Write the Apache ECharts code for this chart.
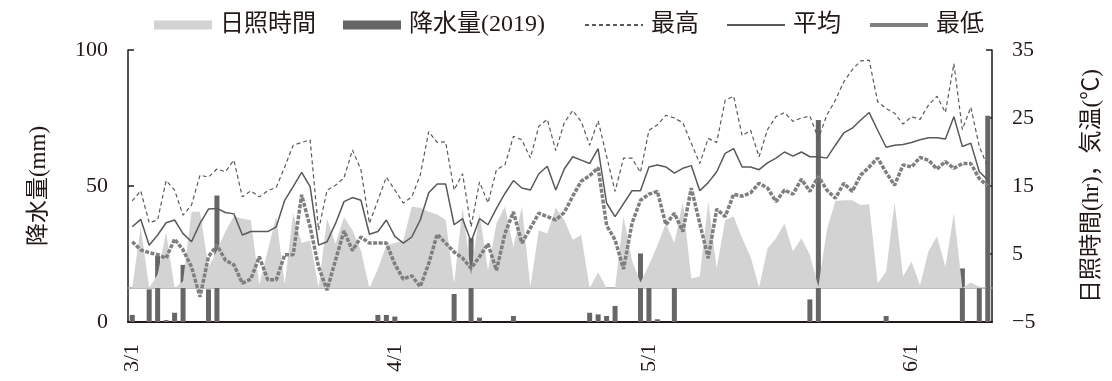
<!DOCTYPE html>
<html>
<head>
<meta charset="utf-8">
<script src="https://cdn.jsdelivr.net/npm/echarts@6/dist/echarts.min.js"></script>
<style>
  html, body { margin: 0; padding: 0; background: #fff; }
  #chart { width: 1112px; height: 381px; }
</style>
</head>
<body>
<div id="chart"></div>
<script>
// 2019/3/1 - 6/10, daily
var monthLengths = [[3, 31], [4, 30], [5, 31], [6, 10]];
var days = [];
monthLengths.forEach(function (m) {
  for (var d = 1; d <= m[1]; d++) days.push(m[0] + '/' + d);
});

// 日照時間 (hr)
var sunshine = [
  0, 9.0, 0, 2.0, 8.2, 0, 1.0, 11.2, 11.2, 3.0,
  5.5, 8.3, 10.6, 10.2, 10.0, 0.5, 5.5, 10.5, 0.5, 11.0,
  6.6, 7.0, 0, 10.2, 6.5, 10.4, 8.5, 5.5, 0, 2.8,
  6.3, 6.6, 7.0, 12.0, 11.8, 11.2, 10.8, 10.0, 0.7, 11.8,
  2.0, 11.0, 2.6, 9.5, 12.0, 6.0, 12.0, 0.2, 8.5, 8.0,
  11.8, 10.0, 7.1, 7.8, 0, 2.3, 0, 0, 10.5, 4.0,
  0.8, 3.4, 6.3, 9.5, 6.6, 12.7, 1.4, 1.7, 12.7, 2.9,
  10.0, 10.5, 7.3, 4.6, 0.1, 5.8, 7.3, 9.5, 5.4, 7.3,
  4.9, 0.2, 8.5, 12.8, 12.9, 12.9, 12.2, 12.3, 0.7, 2.4,
  12.6, 1.7, 3.9, 0.4, 5.4, 7.6, 3.1, 11.0, 0, 0.8,
  0.2, 0
];

// 降水量 (mm)
var precip = [
  2.6, 0, 12.0, 24.3, 0.7, 3.4, 21.0, 0, 0, 12.0,
  46.5, 0, 0, 0, 0, 0, 0, 0, 0, 0,
  0, 0, 0, 0, 0, 0, 0, 0, 0, 2.6,
  2.6, 2.0, 0, 0, 0, 0, 0, 0, 10.3, 0,
  30.8, 1.6, 0, 0, 0, 2.2, 0, 0, 0, 0,
  0, 0, 0, 0, 3.4, 2.8, 2.2, 5.9, 0, 0,
  25.2, 17.2, 1.0, 0, 17.2, 0, 0, 0, 0, 0,
  0, 0, 0, 0, 0, 0, 0, 0, 0, 0,
  8.3, 74.3, 0, 0, 0, 0, 0, 0, 0, 2.2,
  0, 0, 0, 0, 0, 0, 0, 0, 19.7, 0,
  12.4, 75.8
];

// 気温 (℃)
var tempMax = [
  12.8, 14.3, 9.6, 10.0, 15.8, 14.4, 10.7, 12.2, 16.6, 16.3,
  17.5, 17.1, 18.8, 13.4, 14.3, 13.4, 14.3, 14.8, 17.8, 21.0,
  21.4, 21.8, 8.5, 14.4, 15.1, 16.2, 20.3, 17.4, 9.5, 12.9,
  16.3, 14.4, 12.5, 13.4, 16.6, 23.0, 21.4, 21.5, 14.4, 16.8,
  9.0, 15.6, 12.5, 17.4, 18.1, 22.3, 21.8, 19.1, 23.8, 24.8,
  20.2, 24.3, 26.1, 24.5, 21.0, 24.6, 19.4, 14.2, 19.1, 19.1,
  17.0, 23.2, 24.0, 25.4, 25.0, 24.3, 21.3, 18.3, 22.0, 21.4,
  27.6, 28.2, 22.4, 23.2, 19.3, 23.3, 25.2, 25.8, 24.5, 25.0,
  25.3, 22.0, 25.4, 27.6, 30.3, 32.1, 33.4, 33.5, 27.4, 26.4,
  25.7, 24.1, 25.2, 24.8, 26.9, 28.2, 25.8, 33.0, 23.3, 26.6,
  20.8, 17.8
];
var tempAvg = [
  9.0, 10.1, 6.3, 7.8, 9.6, 10.0, 8.0, 6.8, 9.5, 11.6,
  11.7, 11.1, 10.9, 7.8, 8.3, 8.3, 8.3, 9.0, 12.9, 14.9,
  17.0, 14.9, 6.3, 6.8, 9.5, 12.7, 13.3, 12.9, 7.9, 8.3,
  10.0, 7.6, 6.6, 7.5, 10.0, 14.0, 15.3, 15.3, 9.3, 10.2,
  6.8, 10.2, 9.3, 11.7, 13.9, 15.8, 14.7, 14.4, 16.8, 17.9,
  14.4, 17.5, 19.3, 18.8, 18.3, 20.5, 12.5, 10.5, 12.4, 14.3,
  14.3, 17.8, 18.1, 17.8, 16.9, 17.6, 18.0, 14.3, 15.5, 17.1,
  19.8, 20.5, 17.8, 17.8, 17.4, 18.4, 19.1, 20.0, 19.4, 20.0,
  19.3, 19.3, 19.1, 21.0, 22.8, 23.5, 24.7, 25.8, 23.2, 20.7,
  21.0, 21.1, 21.4, 21.8, 22.1, 22.1, 21.9, 25.2, 20.8, 21.3,
  17.1, 15.9
];
var tempMin = [
  6.8, 5.6, 5.2, 4.9, 4.4, 7.2, 5.6, 3.1, -1.3, 4.6,
  6.3, 4.1, 3.4, 0.7, 1.3, 4.6, 1.2, 1.2, 4.9, 4.9,
  13.7, 9.0, 3.1, -0.3, 4.1, 8.4, 5.5, 7.5, 6.6, 6.6,
  6.6, 3.5, 1.3, 1.8, 0.2, 3.6, 7.9, 6.6, 5.3, 4.4,
  2.9, 4.6, 6.5, 2.6, 8.0, 11.2, 6.6, 8.8, 11.0, 10.5,
  10.0, 11.1, 13.5, 15.7, 16.5, 17.7, 9.2, 7.1, 2.8, 9.5,
  12.9, 13.8, 14.2, 9.3, 11.0, 8.3, 14.7, 9.5, 4.4, 11.6,
  10.5, 13.8, 13.5, 14.0, 15.4, 14.7, 12.7, 14.4, 13.8, 16.0,
  14.2, 16.4, 14.4, 13.2, 15.4, 14.2, 16.6, 17.8, 19.1, 17.0,
  15.1, 18.1, 17.8, 19.2, 18.8, 17.5, 18.6, 17.6, 18.3, 18.3,
  16.1, 15.0
];

var FONT = "'Liberation Serif', 'Noto Sans CJK JP', serif";
var INK = '#231815';
var NO_DOT = { color: 'rgba(0,0,0,0)', opacity: 0, borderWidth: 0 };

function isMonthStart(index) {
  return /\/1$/.test(days[index]);
}

var chart = echarts.init(document.getElementById('chart'));
var option = {
  animation: false,
  textStyle: { fontFamily: FONT, color: INK },
  legend: {
    left: 149,
    top: 8,
    itemWidth: 58,
    itemHeight: 9,
    itemGap: 27,
    textStyle: { fontFamily: FONT, fontSize: 24, color: INK, padding: [0, 0, 0, 3] },
    // the (2019) label sits wider in the original type
    formatter: function (name) {
      return name === '降水量(2019)' ? name + '\u2002' : name;
    },
    data: [
      { name: '日照時間', icon: 'rect' },
      { name: '降水量(2019)', icon: 'rect' },
      { name: '最高', itemStyle: NO_DOT },
      { name: '平均', itemStyle: NO_DOT },
      { name: '最低', itemStyle: NO_DOT, lineStyle: { type: 'solid', width: 4 } }
    ]
  },
  grid: { left: 128, right: 120, top: 50, bottom: 59 },
  xAxis: [{
    type: 'category',
    data: days,
    boundaryGap: true,
    axisLine: { lineStyle: { color: INK, width: 2 } },
    axisTick: { interval: isMonthStart, length: 7, lineStyle: { color: INK, width: 1.5 } },
    axisLabel: { interval: isMonthStart, rotate: 90, margin: 22, fontSize: 22, color: INK, fontFamily: FONT }
  }, {
    type: 'category',
    data: days,
    position: 'top',
    axisLine: { lineStyle: { color: '#a8a8a8', width: 1.5 } },
    axisTick: { show: false },
    axisLabel: { show: false }
  }],
  yAxis: [{
    type: 'value',
    min: 0,
    max: 100,
    interval: 50,
    position: 'left',
    name: '降水量(mm)',
    nameLocation: 'middle',
    nameGap: 78,
    nameTextStyle: { fontFamily: FONT, fontSize: 23, color: INK },
    axisLine: { show: true, lineStyle: { color: INK, width: 1.5 } },
    axisTick: { show: true, inside: true, length: 6, lineStyle: { color: INK, width: 1.5 } },
    axisLabel: { fontSize: 22, margin: 20, color: INK, fontFamily: FONT },
    splitLine: { show: false }
  }, {
    type: 'value',
    min: -5,
    max: 35,
    interval: 10,
    position: 'right',
    name: '日照時間(hr)，気温(℃)',
    nameLocation: 'middle',
    nameGap: 88,
    nameTextStyle: { fontFamily: FONT, fontSize: 23, color: INK },
    axisLine: { show: true, lineStyle: { color: INK, width: 1.5 } },
    axisTick: { show: true, inside: true, length: 6, lineStyle: { color: INK, width: 1.5 } },
    axisLabel: {
      fontSize: 22, margin: 20, color: INK, fontFamily: FONT,
      formatter: function (v) { return String(v).replace('-', '\u2212'); }
    },
    splitLine: { show: false }
  }],
  series: [{
    name: '日照時間',
    type: 'line',
    yAxisIndex: 1,
    data: sunshine,
    symbol: 'none',
    lineStyle: { width: 0 },
    itemStyle: { color: '#d3d3d3' },
    areaStyle: { color: '#d3d3d3', opacity: 1 }
  }, {
    name: '降水量(2019)',
    type: 'bar',
    yAxisIndex: 0,
    data: precip,
    barWidth: 5,
    itemStyle: { color: '#666666' }
  }, {
    name: '最高',
    type: 'line',
    yAxisIndex: 1,
    data: tempMax,
    symbol: 'none',
    itemStyle: { color: '#595959' },
    lineStyle: { color: '#595959', width: 1.2, type: [4, 3] }
  }, {
    name: '平均',
    type: 'line',
    yAxisIndex: 1,
    data: tempAvg,
    symbol: 'none',
    itemStyle: { color: '#595959' },
    lineStyle: { color: '#595959', width: 1.5 }
  }, {
    name: '最低',
    type: 'line',
    yAxisIndex: 1,
    data: tempMin,
    symbol: 'none',
    itemStyle: { color: '#7f7f7f' },
    lineStyle: { color: '#7f7f7f', width: 3.5, type: [4, 1.5] }
  }]
};
chart.setOption(option);
</script>
</body>
</html>
